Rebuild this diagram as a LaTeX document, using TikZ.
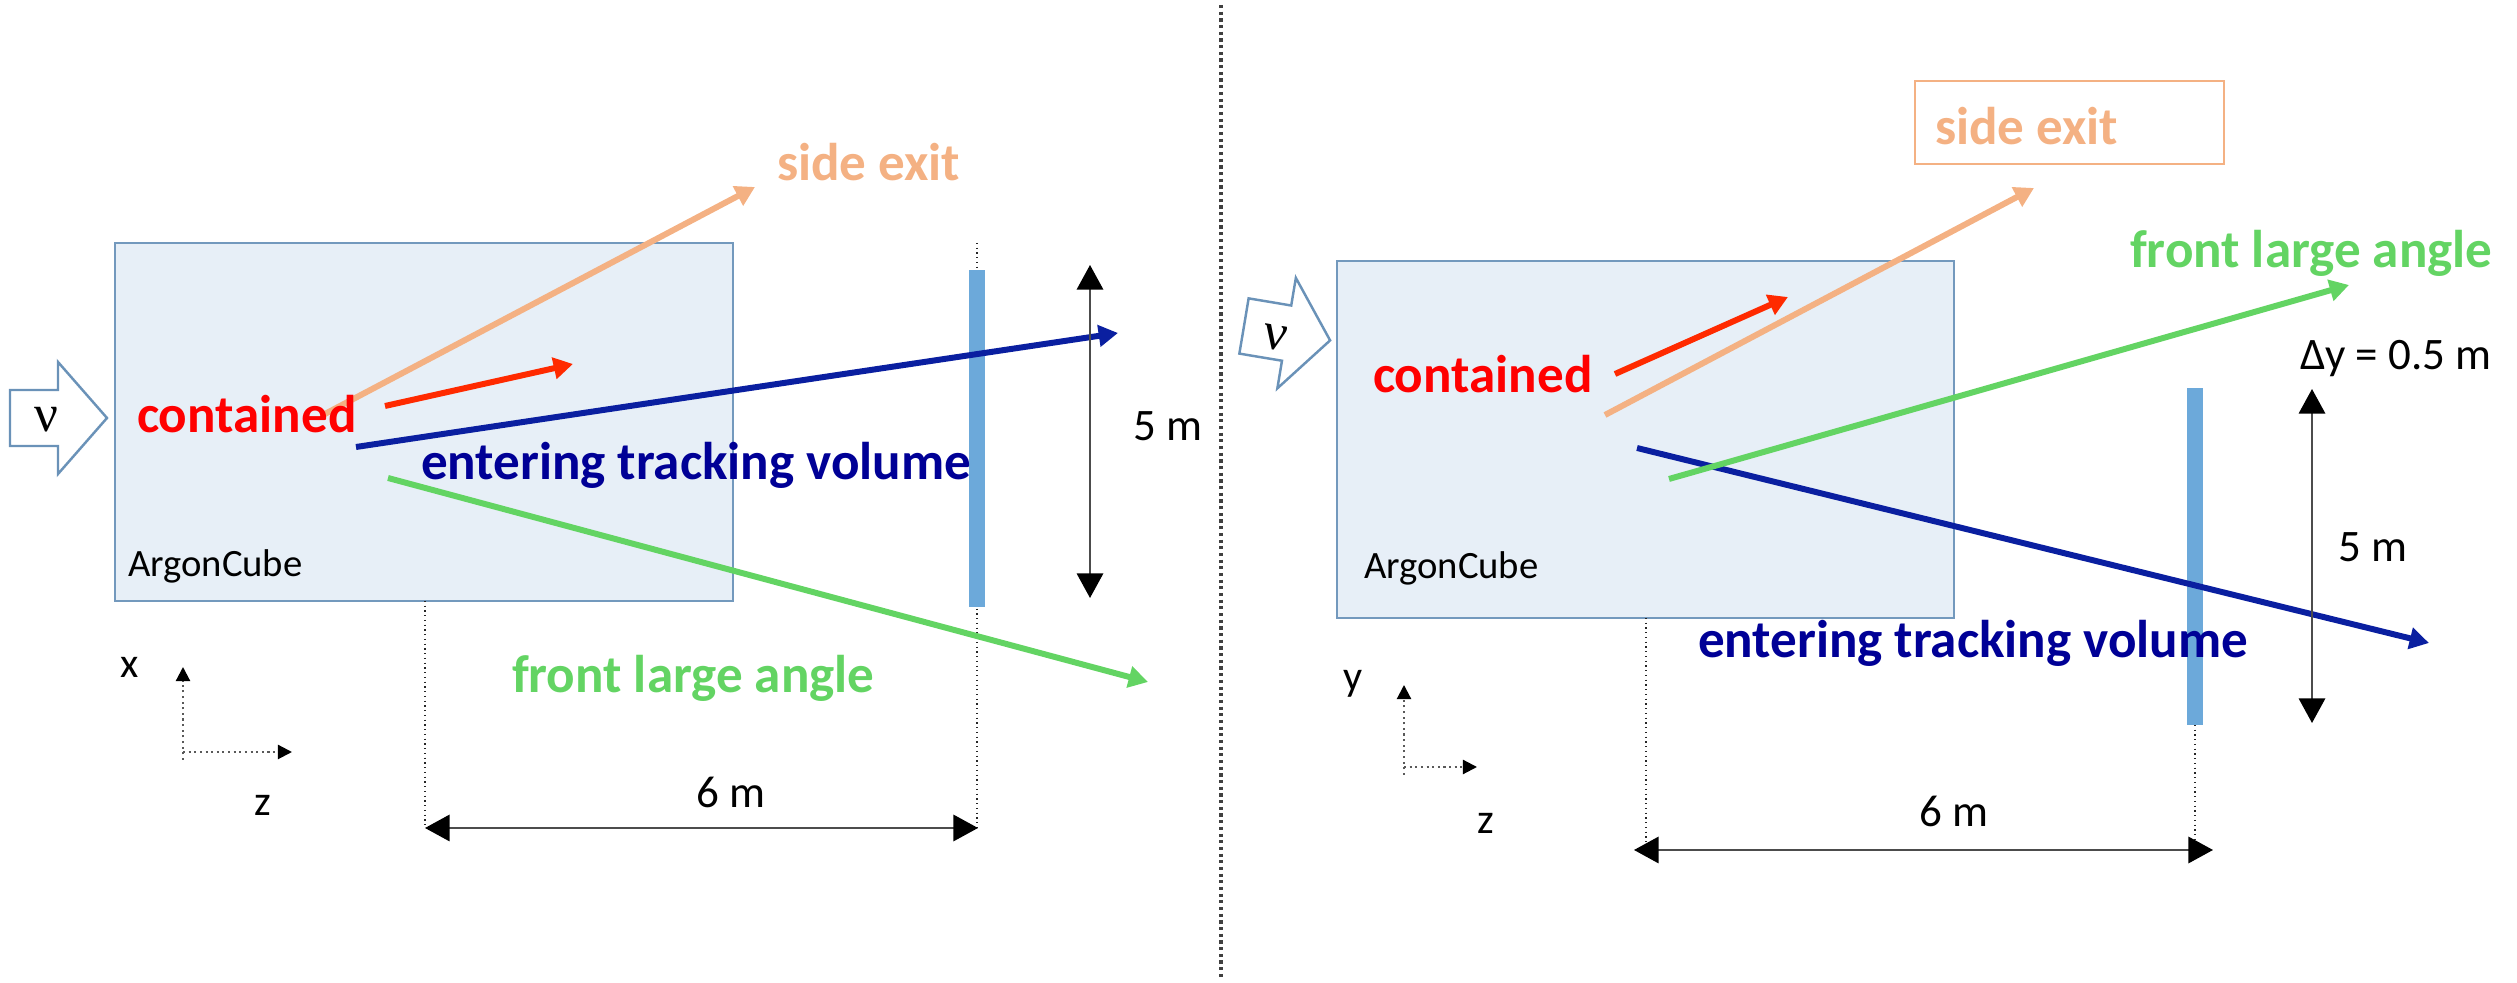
\documentclass[tikz,border=0pt]{standalone}
\usepackage{fontspec}
\setmainfont{Carlito}
\newfontfamily\nufont{Liberation Serif}
\usetikzlibrary{arrows.meta}

\definecolor{cubefill}{HTML}{E7EFF7}
\definecolor{cubeline}{HTML}{7399BD}
\definecolor{exitorange}{HTML}{F4B183}
\definecolor{stopred}{HTML}{FF2A00}
\definecolor{trackblue}{HTML}{0A1FA0}
\definecolor{labelblue}{HTML}{000096}
\definecolor{anglegreen}{HTML}{63D463}
\definecolor{planeblue}{HTML}{6CA9DA}
\definecolor{nuline}{HTML}{6A92B8}

\begin{document}
\begin{tikzpicture}[
x=0.01cm, y=-0.01cm,
every node/.style={inner sep=0pt, outer sep=0pt},
track/.style={line width=1.7pt, -{Triangle[length=5.5pt,width=6pt]}},
tag/.style={anchor=base west, font=\fontsize{15.1}{17}\selectfont\bfseries},
plain/.style={anchor=base west, font=\fontsize{12.8}{15}\selectfont},
cube/.style={fill=cubefill, draw=cubeline, line width=0.7pt},
plane/.style={fill=planeblue},
guide/.style={draw=black!85, line width=0.35pt, densely dotted},
dim/.style={draw=black!70, line width=0.6pt, {Triangle[length=7pt,width=7.5pt,color=black]}-{Triangle[length=7pt,width=7.5pt,color=black]}},
axis/.style={draw=black!65, line width=0.6pt, densely dotted, -{Triangle[length=4pt,width=4pt,color=black]}},
beam/.style={draw=nuline, fill=white, line width=0.7pt}
]

\useasboundingbox (0,0) rectangle (2517,983);

% separator
\draw[draw=black!75, line width=0.9pt, densely dotted] (1221,5) -- (1221,980);

%%%%% left: x-z view
\draw[beam] (10,390) -- (58,390) -- (58,362) -- (107,418) -- (58,474) -- (58,446) -- (10,446) -- cycle;
\node[font=\nufont\fontsize{15}{17}\selectfont] (nuL) at (46,420) {ν};

\draw[cube] (115,243) rectangle (733,601);
\node[anchor=base west, font=\fontsize{11}{13}\selectfont] (argonL) at (128,577) {ArgonCube};

\draw[guide] (425,601) -- (425,828);
\draw[guide] (977,243) -- (977,828);
\fill[plane] (969,270) rectangle (985,607);

\coordinate (oL1) at (323,415);
\coordinate (oL2) at (755,187);
\coordinate (rL1) at (385,406);
\coordinate (rL2) at (573,364);
\coordinate (bL1) at (356,447);
\coordinate (bL2) at (1118,333);
\coordinate (gL1) at (388,478);
\coordinate (gL2) at (1148,682);

\draw[track, exitorange] (oL1) -- (oL2);
\draw[track, stopred] (rL1) -- (rL2);
\draw[track, trackblue] (bL1) -- (bL2);
\draw[track, anglegreen] (gL1) -- (gL2);

\node[tag, text=red] (contL) at (137,433) {contained};
\node[tag, text=exitorange] (exitL) at (777,181) {side exit};
\node[tag, text=labelblue] (enterL) at (421,480) {entering tracking volume};
\node[tag, text=anglegreen] (frontL) at (512,693) {front large angle};

\coordinate (hL1) at (425,828);
\coordinate (hL2) at (978,828);
\draw[dim] (hL1) -- (hL2);
\node[plain] (sixL) at (696,808) {6 m};

\coordinate (vL1) at (1090,265);
\coordinate (vL2) at (1090,598);
\draw[dim] (vL1) -- (vL2);
\node[plain] (fiveL) at (1133,441) {5 m};

\coordinate (axL) at (183,752);
\draw[axis] (183,760) -- (183,667);
\draw[axis] (axL) -- (292,752);
\node[font=\fontsize{12}{14}\selectfont] (xL) at (130,667) {x};
\node[font=\fontsize{12}{14}\selectfont] (zL) at (263,805) {z};

%%%%% right: y-z view
\begin{scope}[shift={(1244,326)}, rotate=-9.5, xscale=0.9]
\draw[beam] (0,-28) -- (48,-28) -- (48,-56) -- (97,0) -- (48,56) -- (48,28) -- (0,28) -- cycle;
\end{scope}
\node[font=\nufont\fontsize{15}{17}\selectfont, rotate=-9.5] (nuR) at (1275,338) {ν};

\draw[cube] (1337,261) rectangle (1954,618);
\node[anchor=base west, font=\fontsize{11}{13}\selectfont] (argonR) at (1364,579) {ArgonCube};

\draw[guide] (1646,618) -- (1646,850);
\draw[guide] (2195,725) -- (2195,850);
\fill[plane] (2187,388) rectangle (2203,725);

\coordinate (oR1) at (1605,415);
\coordinate (oR2) at (2034,188);
\coordinate (rR1) at (1615,374);
\coordinate (rR2) at (1788,297);
\coordinate (bR1) at (1637,448);
\coordinate (bR2) at (2429,643);
\coordinate (gR1) at (1669,479);
\coordinate (gR2) at (2349,285);

\draw[track, exitorange] (oR1) -- (oR2);
\draw[track, stopred] (rR1) -- (rR2);
\draw[track, trackblue] (bR1) -- (bR2);
\draw[track, anglegreen] (gR1) -- (gR2);

\node[tag, text=red] (contR) at (1373,393) {contained};
\draw[draw=exitorange, line width=0.6pt] (1915,81) rectangle (2224,164);
\node[tag, text=exitorange] (exitR) at (1935,145) {side exit};
\node[tag, text=labelblue] (enterR) at (1698,658) {entering tracking volume};
\node[tag, text=anglegreen] (frontR) at (2130,268) {front large angle};

\coordinate (hR1) at (1634,850);
\coordinate (hR2) at (2213,850);
\draw[dim] (hR1) -- (hR2);
\node[plain] (sixR) at (1919,827) {6 m};

\coordinate (vR1) at (2312,389);
\coordinate (vR2) at (2312,723);
\draw[dim] (vR1) -- (vR2);
\node[plain] (fiveR) at (2338,562) {5 m};
\node[plain] (deltaR) at (2300,370) {Δy = 0.5 m};

\coordinate (axR) at (1404,767);
\draw[axis] (1404,775) -- (1404,685);
\draw[axis] (axR) -- (1477,767);
\node[font=\fontsize{12}{14}\selectfont] (yR) at (1353,684) {y};
\node[font=\fontsize{12}{14}\selectfont] (zR) at (1486,823) {z};

\end{tikzpicture}
\end{document}
